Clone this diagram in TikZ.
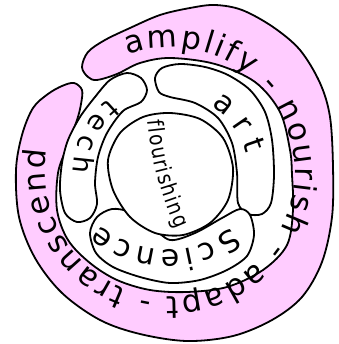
\documentclass[tikz,border=0pt]{standalone}
\usepackage{fontspec}
\newfontfamily\handfont{DejaVu Sans}
\newfontfamily\narrowhand[FakeStretch=0.85]{DejaVu Sans}
\usetikzlibrary{decorations.text}
\definecolor{bandpink}{RGB}{255,204,255}

\begin{document}
\begin{tikzpicture}[x=1pt, y=1pt]
    \useasboundingbox (0,0) rectangle (338,-344);
    %
    \tikzset{outline/.style={line width=1.8pt, line join=round}}
    \coordinate (ring) at (170,-172);
    \coordinate (mid) at (170,-174);
    \coordinate (low) at (167,-148);

    % outer band
    \draw[outline, fill=bandpink] plot[smooth cycle, tension=0.55] coordinates {
        (82,-67) (88,-52) (105,-40) (130,-28) (160,-15) (190,-8) (215,-5) (242,-10)
        (273,-27) (300,-50) (320,-83) (330,-117) (333,-167) (332,-217) (322,-262)
        (302,-297) (272,-320) (233,-336) (187,-341) (140,-334) (100,-320) (62,-293)
        (35,-258) (19,-217) (16,-170) (22,-135) (33,-108) (48,-94) (62,-86) (74,-83)
        (82,-90) (81,-104) (77,-120) (67,-147) (58,-173) (57,-210) (68,-240) (90,-263)
        (117,-280) (150,-290) (187,-292) (227,-287) (263,-270) (287,-245) (293,-210)
        (292,-175) (290,-150) (280,-112) (255,-82) (215,-64) (170,-58) (140,-63)
        (117,-74) (97,-80) (88,-77)};

    % art
    \draw[outline, fill=white] plot[smooth cycle] coordinates {
        (155,-78) (162,-68) (180,-64) (205,-67) (228,-75) (250,-90) (265,-112)
        (272,-140) (274,-175) (271,-203) (262,-214) (248,-214) (238,-203) (237,-173)
        (232,-143) (218,-118) (195,-103) (170,-97) (159,-92)};
    % tech
    \draw[outline, fill=white] plot[smooth cycle] coordinates {
        (127,-73) (141,-78) (147,-90) (141,-102) (123,-111) (107,-133) (98,-157)
        (95,-183) (97,-204) (90,-218) (77,-222) (65,-213) (60,-190) (62,-163)
        (68,-140) (80,-117) (95,-97) (110,-80)};
    % science
    \draw[outline, fill=white] plot[smooth cycle] coordinates {
        (90,-233) (97,-217) (112,-209) (130,-212) (150,-225) (170,-240) (195,-233)
        (222,-218) (240,-209) (250,-215) (254,-235) (247,-256) (227,-270) (200,-280)
        (170,-283) (140,-277) (113,-267) (96,-253)};
    % centre
    \draw[outline, fill=white] plot[smooth cycle] coordinates {
        (170,-113) (200,-119) (223,-138) (233,-168) (228,-200) (210,-223) (183,-235)
        (155,-233) (130,-217) (113,-190) (108,-160) (120,-133) (143,-117)};

    % words
    \path[decorate, decoration={text along path, text align=fit to path,
        text={|\handfont\fontsize{31}{31}\selectfont|amplify - nourish - adapt - transcend}}]
        (ring) ++(110:125pt) arc[start angle=110, end angle=-190, radius=125pt];
    \path[decorate, decoration={text along path, text align=fit to path,
        text={|\handfont\fontsize{30}{30}\selectfont|art}}]
        (mid) ++(59:79pt) arc[start angle=59, end angle=15, radius=79pt];
    \path[decorate, decoration={text along path, text align=fit to path,
        text={|\handfont\fontsize{30}{30}\selectfont|Science}}]
        (low) ++(-51:102pt) arc[start angle=-51, end angle=-131, radius=102pt];
    \path[decorate, decoration={text along path, text align=fit to path,
        text={|\handfont\fontsize{27}{27}\selectfont|tech}}]
        (mid) ++(129:97pt) arc[start angle=129, end angle=179, radius=97pt];
    \path[decorate, decoration={text along path, text align=fit to path,
        text={|\narrowhand\fontsize{22}{22}\selectfont|flourishing}}]
        (148,-121) .. controls (151,-160) and (162,-197) .. (176,-229);
\end{tikzpicture}
\end{document}
